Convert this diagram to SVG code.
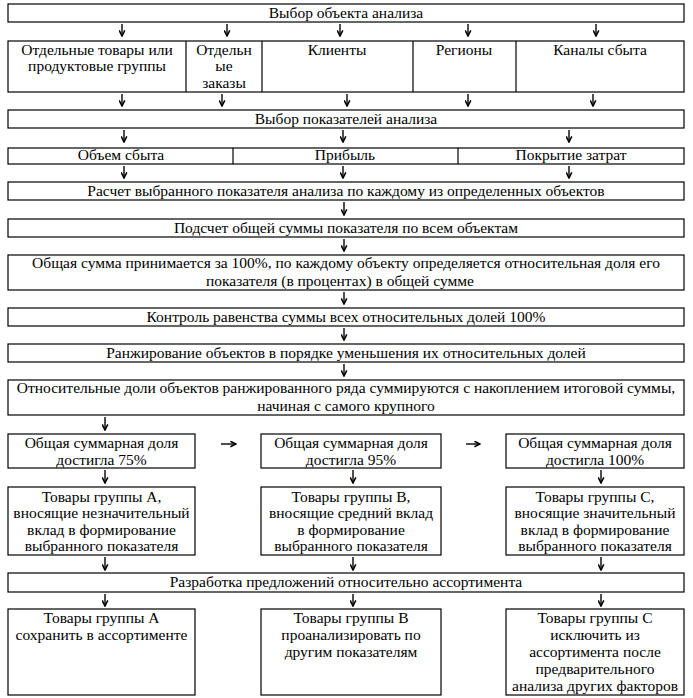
<svg xmlns="http://www.w3.org/2000/svg" width="693" height="698" viewBox="0 0 693 698">
<style>
.b{fill:#fff;stroke:#000;stroke-width:1.2}
.l{stroke:#000;stroke-width:1.2;fill:none}
text{font-family:'Liberation Serif','Times New Roman',serif;font-size:15.5px;fill:#000;text-anchor:middle}
.a{stroke:#222;stroke-width:1.6;fill:none;marker-end:url(#ah)}
</style>
<defs>
<marker id="ah" viewBox="0 0 10 10" refX="9" refY="5" markerWidth="7" markerHeight="7" markerUnits="userSpaceOnUse" orient="auto">
<path d="M1,1 L9,5 L1,9" fill="none" stroke="#000" stroke-width="2.2"/>
</marker>
</defs>
<rect width="693" height="698" fill="#fff"/>
<g font-family="Liberation Serif, Times New Roman, serif">
<g id="n1"><rect class="b" x="8" y="4" width="676" height="18"/><text x="346" y="18">Выбор объекта анализа</text></g>

<g id="n2">
<rect class="b" x="8" y="41" width="676" height="51"/>
<line class="l" x1="186" y1="41" x2="186" y2="92"/>
<line class="l" x1="262" y1="41" x2="262" y2="92"/>
<line class="l" x1="413" y1="41" x2="413" y2="92"/>
<line class="l" x1="516" y1="41" x2="516" y2="92"/>
<text x="97" y="55">Отдельные товары или</text>
<text x="97" y="71">продуктовые группы</text>
<text x="224" y="55">Отдельн</text>
<text x="224" y="71">ые</text>
<text x="224" y="88">заказы</text>
<text x="337" y="55">Клиенты</text>
<text x="464" y="55">Регионы</text>
<text x="600" y="55">Каналы сбыта</text>
</g>

<g id="n3"><rect class="b" x="8" y="110" width="676" height="18"/><text x="346" y="124">Выбор показателей анализа</text></g>

<g id="n4">
<rect class="b" x="8" y="148" width="676" height="16"/>
<line class="l" x1="233" y1="148" x2="233" y2="164"/>
<line class="l" x1="458" y1="148" x2="458" y2="164"/>
<text x="121" y="160">Объем сбыта</text>
<text x="345" y="160">Прибыль</text>
<text x="571" y="160">Покрытие затрат</text>
</g>

<g id="n5"><rect class="b" x="8" y="182" width="676" height="18"/><text x="346" y="196">Расчет выбранного показателя анализа по каждому из определенных объектов</text></g>
<g id="n6"><rect class="b" x="8" y="219" width="676" height="18"/><text x="346" y="233">Подсчет общей суммы показателя по всем объектам</text></g>
<g id="n7"><rect class="b" x="8" y="255" width="676" height="35"/>
<text x="346" y="268">Общая сумма принимается за 100%, по каждому объекту определяется относительная доля его</text>
<text x="340" y="286">показателя (в процентах) в общей сумме</text></g>
<g id="n8"><rect class="b" x="8" y="308" width="676" height="18"/><text x="346" y="322">Контроль равенства суммы всех относительных долей 100%</text></g>
<g id="n9"><rect class="b" x="8" y="344" width="676" height="18"/><text x="346" y="358">Ранжирование объектов в порядке уменьшения их относительных долей</text></g>
<g id="n10"><rect class="b" x="8" y="380" width="676" height="35"/>
<text x="346" y="393">Относительные доли объектов ранжированного ряда суммируются с накоплением итоговой суммы,</text>
<text x="346" y="411">начиная с самого крупного</text></g>

<g id="n11a"><rect class="b" x="8" y="434" width="187" height="34"/><text x="101.5" y="448">Общая суммарная доля</text><text x="101.5" y="465">достигла 75%</text></g>
<g id="n11b"><rect class="b" x="261" y="434" width="180" height="34"/><text x="351" y="448">Общая суммарная доля</text><text x="351" y="465">достигла 95%</text></g>
<g id="n11c"><rect class="b" x="506" y="434" width="178" height="34"/><text x="595" y="448">Общая суммарная доля</text><text x="595" y="465">достигла 100%</text></g>

<g id="n12a"><rect class="b" x="8" y="487" width="187" height="68"/>
<text x="101.5" y="502">Товары группы А,</text><text x="101.5" y="518">вносящие незначительный</text><text x="101.5" y="535">вклад в формирование</text><text x="101.5" y="551">выбранного показателя</text></g>
<g id="n12b"><rect class="b" x="261" y="487" width="180" height="68"/>
<text x="351" y="502">Товары группы В,</text><text x="351" y="518">вносящие средний вклад</text><text x="351" y="535">в формирование</text><text x="351" y="551">выбранного показателя</text></g>
<g id="n12c"><rect class="b" x="506" y="487" width="178" height="68"/>
<text x="595" y="502">Товары группы С,</text><text x="595" y="518">вносящие значительный</text><text x="595" y="535">вклад в формирование</text><text x="595" y="551">выбранного показателя</text></g>

<g id="n13"><rect class="b" x="8" y="573" width="676" height="19"/><text x="346" y="587">Разработка предложений относительно ассортимента</text></g>

<g id="n14a"><rect class="b" x="8" y="609" width="187" height="86"/>
<text x="101.5" y="623">Товары группы А</text><text x="101.5" y="640">сохранить в ассортименте</text></g>
<g id="n14b"><rect class="b" x="261" y="609" width="180" height="86"/>
<text x="351" y="623">Товары группы В</text><text x="351" y="640">проанализировать по</text><text x="351" y="657">другим показателям</text></g>
<g id="n14c"><rect class="b" x="506" y="609" width="178" height="86"/>
<text x="595" y="623">Товары группы С</text><text x="595" y="640">исключить из</text><text x="595" y="657">ассортимента после</text><text x="595" y="674">предварительного</text><text x="595" y="691">анализа других факторов</text></g>
</g>
<g id="connectors">
<path class="a" d="M122,24V36"/><path class="a" d="M227,24V36"/><path class="a" d="M340,24V36"/><path class="a" d="M468,24V36"/><path class="a" d="M596,24V36"/>
<path class="a" d="M122,94V106"/><path class="a" d="M222,94V106"/><path class="a" d="M347,94V106"/><path class="a" d="M468,94V106"/><path class="a" d="M593,94V106"/>
<path class="a" d="M124,130V142"/><path class="a" d="M343,130V142"/><path class="a" d="M569,130V142"/>
<path class="a" d="M124,166V178"/><path class="a" d="M343,166V178"/><path class="a" d="M569,166V178"/>
<path class="a" d="M344,202V215"/>
<path class="a" d="M344,239V251"/>
<path class="a" d="M344,292V304"/>
<path class="a" d="M344,328V340"/>
<path class="a" d="M344,364V376"/>
<path class="a" d="M105,417V430"/>
<path class="a" d="M221,444H236"/><path class="a" d="M466,444H480"/>
<path class="a" d="M105,470V483"/><path class="a" d="M353,470V483"/><path class="a" d="M601,470V483"/>
<path class="a" d="M105,557V570"/><path class="a" d="M353,557V570"/><path class="a" d="M601,557V570"/>
<path class="a" d="M105,594V606"/><path class="a" d="M353,594V606"/><path class="a" d="M601,594V606"/>
</g>
</svg>
